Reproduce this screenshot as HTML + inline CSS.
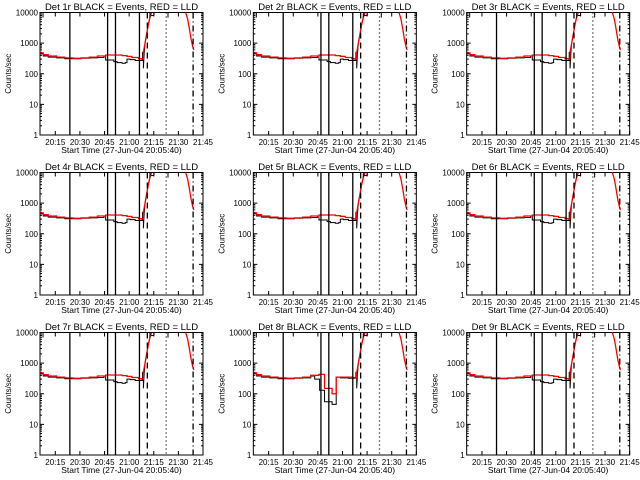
<!DOCTYPE html>
<html><head><meta charset="utf-8"><style>
body{margin:0;background:#fff;}
svg{display:block;font-family:"Liberation Sans",sans-serif;}
</style></head><body>
<svg id="c" width="640" height="480" xmlns="http://www.w3.org/2000/svg"></svg>
<script>
// minutes after 20:05:40
const redT = [0,2,5,10,15,20,25,30,35,40,45,50,53,56,60,62,63,64,65,66,67,68];
const redV = [480,420,380,350,330,320,330,350,380,410,410,390,370,340,310,300,500,1000,2000,4000,7000,10000];
const red2T = [88.8,90,91,92,93,93.7];
const red2V = [10000,6000,3000,1400,800,600];
const blkT = [0,2,5,10,15,20,25,30,35,39,40,45,47,50,52,53,55,58,62,62.5,63,63.5,64,65,66,67,68];
const blkV = [450,380,350,330,310,310,320,330,340,380,280,250,230,220,230,300,290,270,270,500,150,480,1000,2000,4000,7000,10000];
const blk8T = [0,2,5,10,15,20,25,30,35,37.4,40.4,43.4,48,50.5,53,58,62,62.5,63,63.5,64,65,66,67,68];
const blk8V = [450,380,350,330,310,310,320,330,380,300,130,55,45,350,330,320,320,500,150,480,1000,2000,4000,7000,10000];
const red8T = [0,2,5,10,15,20,25,30,35,40,43.4,48,50.5,55,60,62,63,64,65,66,67,68];
const red8V = [480,420,380,350,330,320,330,350,400,430,150,100,350,350,340,330,500,1000,2000,4000,7000,10000];
const vSolid = [18.2,41.2,46,60.6];
const vDash = [65.4], vDot = [76.9], vDashDot = [93.3];
const tickLabels = ["20:15","20:30","20:45","21:00","21:15","21:30","21:45"];
const tickMin = [9.33,24.33,39.33,54.33,69.33,84.33,99.33];
const yTicks = [1,10,100,1000,10000];
const NS="http://www.w3.org/2000/svg";
const svg=document.getElementById('c');
function mk(tag,attrs,parent){const e=document.createElementNS(NS,tag);for(const k in attrs)e.setAttribute(k,attrs[k]);parent.appendChild(e);return e;}
for(let p=0;p<9;p++){
  const col=p%3,row=Math.floor(p/3);
  const ox=col*213.33,oy=row*160;
  const L=ox+40,R=ox+203,T=oy+12.5,B=oy+135;
  const xs=m=>L+m*(R-L)/99.33;
  const ys=v=>B-Math.log10(v)/4*(B-T);
  const g=mk('g',{},svg);
  
  
  const box=mk('rect',{x:L,y:T,width:R-L,height:B-T,fill:'none',stroke:'#000','stroke-width':1},g);
  
  
  const title=mk('text',{x:(L+R)/2,y:oy+10,'text-anchor':'middle','font-size':9.5},g);
  title.textContent='Det '+(p+1)+'r BLACK = Events, RED = LLD';
  
  
  yTicks.forEach((v,i)=>{
    const y=ys(v);
    mk('line',{x1:L,x2:L+4,y1:y,y2:y,stroke:'#000'},g);
    mk('line',{x1:R,x2:R-4,y1:y,y2:y,stroke:'#000'},g);
    const t=mk('text',{x:L-2,y:y+3,'text-anchor':'end','font-size':8},g);
    t.textContent=String(v);
    
    
    if(i<4)for(let k=2;k<10;k++){const yy=ys(v*k);mk('line',{x1:L,x2:L+2,y1:yy,y2:yy,stroke:'#000'},g);mk('line',{x1:R,x2:R-2,y1:yy,y2:yy,stroke:'#000'},g);}
  });
  tickMin.forEach((m,i)=>{
    const x=xs(m);
    mk('line',{x1:x,x2:x,y1:B,y2:B-4,stroke:'#000'},g);
    mk('line',{x1:x,x2:x,y1:T,y2:T+4,stroke:'#000'},g);
    const t=mk('text',{x:x,y:B+10,'text-anchor':'middle','font-size':8},g);
    t.textContent=tickLabels[i];
    
    
  });
  const xt=mk('text',{x:(L+R)/2,y:B+18,'text-anchor':'middle','font-size':8.5},g);
  xt.textContent='Start Time (27-Jun-04 20:05:40)';
  
  
  const yt=mk('text',{x:0,y:0,'text-anchor':'middle','font-size':8,transform:`translate(${ox+11},${(T+B)/2}) rotate(-90)`},g);
  yt.textContent='Counts/sec';
  
  
  const step=(ts,vs)=>{let d='';ts.forEach((t,i)=>{const x=xs(t),y=ys(Math.min(vs[i],10000));if(i===0)d+=`M${x},${y}`;else if(t>=63.5)d+=`L${x},${y}`;else d+=`H${x}V${y}`;});return d;};
  const b=mk('path',{d:step(p===7?blk8T:blkT,p===7?blk8V:blkV),fill:'none',stroke:'#000','stroke-width':1},g);
  
  
  const r=mk('path',{d:step(p===7?red8T:redT,p===7?red8V:redV)+' M'+red2T.map((t,i)=>xs(t)+','+ys(red2V[i])).join(' L'),fill:'none',stroke:'#f00','stroke-width':1.3},g);
  
  
  mk('path',{d:`M${L+3},${T+5}V${T}H${xs(18.2)}M${xs(46)},${T+4}V${T}H${xs(64)}M${xs(67)},${T+5}V${T}h4v3h-3M${xs(78)},${T+5}V${T}h5`,fill:'none',stroke:'#000'},g);
  const vl=(arr,dash,name)=>arr.forEach(m=>{const l=mk('line',{x1:xs(m),x2:xs(m),y1:T,y2:B,stroke:'#000','stroke-width':1.3,'stroke-dasharray':dash},g);});
  vl(vSolid,'none','event-marker-solid');
  vl(vDash,'6,4','event-marker-dashed');
  vl(vDot,'1,3','event-marker-dotted');
  vl(vDashDot,'6,3,1,3','event-marker-dashdot');
}
</script>
</body></html>
